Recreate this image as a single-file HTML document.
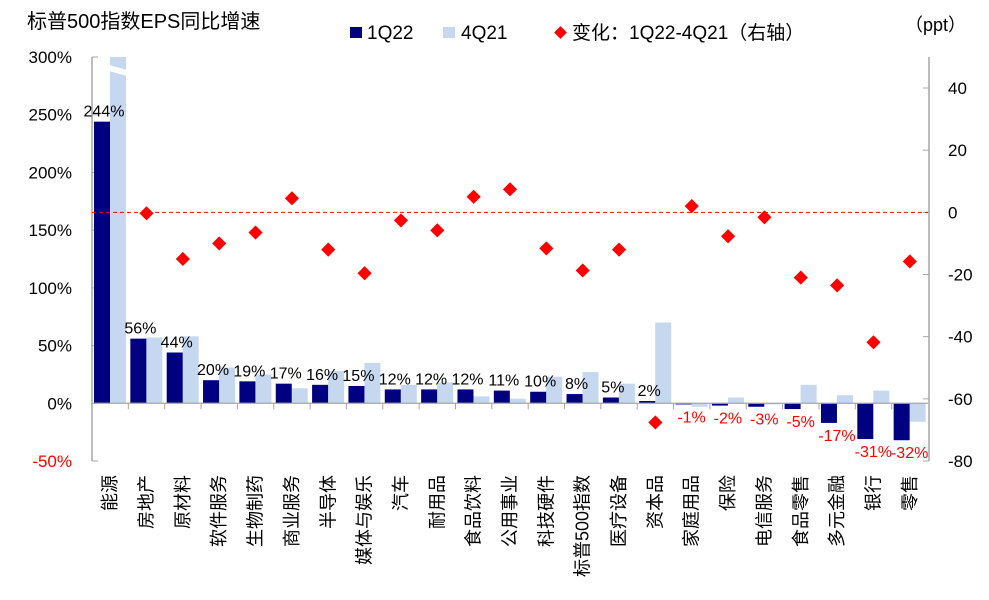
<!DOCTYPE html>
<html><head><meta charset="utf-8"><style>
html,body{margin:0;padding:0;background:#fff;}
svg{display:block;font-family:"Liberation Sans","Noto Sans CJK SC",sans-serif;}
</style></head><body>
<svg id="chart" width="989" height="600" viewBox="0 0 989 600" xmlns="http://www.w3.org/2000/svg">
<text x="27" y="28" font-size="20" fill="#000">标普500指数EPS同比增速</text>
<g>
<rect x="350" y="27" width="12" height="11" fill="#000080"/>
<text x="367" y="39" font-size="19">1Q22</text>
<rect x="443" y="27" width="12" height="11" fill="#c6d8ef"/>
<text x="461" y="39" font-size="19">4Q21</text>
<rect x="556" y="28" width="9" height="9" fill="#ff0000" transform="rotate(45 560.5 32.5)"/>
<text x="572" y="39" font-size="19">变化：1Q22-4Q21（右轴）</text>
</g>
<text x="905" y="31" font-size="18">（ppt）</text>
<g id="plot"></g>
</svg>
<script>
const categories=["能源","房地产","原材料","软件服务","生物制药","商业服务","半导体","媒体与娱乐","汽车","耐用品","食品饮料","公用事业","科技硬件","标普500指数","医疗设备","资本品","家庭用品","保险","电信服务","食品零售","多元金融","银行","零售"];
const q122=[244,56,44,20,19,17,16,15,12,12,12,11,10,8,5,2,-1,-2,-3,-5,-17,-31,-32];
const q421=[320,57,58,31,25,13,28,35,16,18,6,4,23,27,17,70,-3,5,-1,16,7,11,-16];
const change=[null,-0.3,-15,-10,-6.5,4.5,-12,-19.6,-2.6,-5.8,5,7.4,-11.6,-18.7,-12,-67.6,2,-7.7,-1.6,-21,-23.5,-41.8,-15.8];
const leftTicks=[300,250,200,150,100,50,0,-50];
const rightTicks=[40,20,0,-20,-40,-60,-80];

const NS="http://www.w3.org/2000/svg";
const g=document.getElementById('plot');
const X0=92,X1=928,TOP=57,BOT=461;
const yL=v=>TOP+(300-v)/350*(BOT-TOP);
const yR=v=>88+(40-v)/120*(461-88);
const bw=(X1-X0)/categories.length;
const cx=i=>X0+bw*i;
function mk(tag,attrs,name){const e=document.createElementNS(NS,tag);for(const k in attrs)e.setAttribute(k,attrs[k]);g.appendChild(e);return e;}
mk('line',{x1:X0,y1:TOP,x2:X0,y2:BOT,stroke:'#a6a6a6','stroke-width':1.5},'left-axis');
mk('line',{x1:X1+1,y1:TOP,x2:X1+1,y2:BOT,stroke:'#a6a6a6','stroke-width':1.5},'right-axis');
leftTicks.forEach(t=>{const y=yL(t);
 mk('line',{x1:X0,y1:y,x2:X0+6,y2:y,stroke:'#a6a6a6'},'left-tick');
 const tx=mk('text',{x:72,y:y+6,'font-size':17,'text-anchor':'end',fill:t<0?'#ff0000':'#000'},'left-tick-label');tx.textContent=t+'%';});
rightTicks.forEach(t=>{const y=yR(t);
 mk('line',{x1:X1+1,y1:y,x2:X1-5,y2:y,stroke:'#a6a6a6'},'right-tick');
 const tx=mk('text',{x:948,y:y+6,'font-size':17,fill:'#000'},'right-tick-label');tx.textContent=t;});
const y0=yL(0);
categories.forEach((c,i)=>{
 const l=cx(i);
 const v2=Math.min(q421[i],300);
 const y2=yL(v2);
 mk('rect',{x:l+18,y:Math.min(y2,y0),width:16,height:Math.abs(y0-y2),fill:'#c6d8ef'},'bar-4q21');
 if(q421[i]>300){mk('polygon',{points:`${l+17},${TOP+8} ${l+35},${TOP+13} ${l+35},${TOP+19} ${l+17},${TOP+14}`,fill:'#fff'},'axis-break');}
 const y1=yL(q122[i]);
 mk('rect',{x:l+2,y:Math.min(y1,y0),width:16,height:Math.abs(y0-y1),fill:'#000080'},'bar-1q22');
 const neg=q122[i]<0;
 const lb=mk('text',{x:l+(neg?18:12),y:neg?y1+18:y1-5,'font-size':16,'text-anchor':'middle',fill:neg?'#ff0000':'#000'},'value-label');lb.textContent=q122[i]+'%';
 mk('line',{x1:l,y1:y0,x2:l,y2:y0+6,stroke:'#a6a6a6'},'x-tick');
 const t=mk('text',{x:0,y:0,'font-size':18,'text-anchor':'end',transform:`translate(${l+bw/2+6},475) rotate(-90)`},'category-label');t.textContent=c;
});
mk('line',{x1:X0,y1:y0,x2:X1,y2:y0,stroke:'#a6a6a6','stroke-width':1.2},'x-axis');
mk('line',{x1:X0,y1:yR(0),x2:X1,y2:yR(0),stroke:'#ff0000','stroke-width':1,'stroke-dasharray':'4,3'},'zero-line-right');
change.forEach((v,i)=>{if(v===null)return;const x=cx(i)+bw/2,y=yR(v);
 mk('rect',{x:x-5,y:y-5,width:10,height:10,fill:'#ff0000',transform:`rotate(45 ${x} ${y})`},'change-marker');});
</script>
</body></html>
